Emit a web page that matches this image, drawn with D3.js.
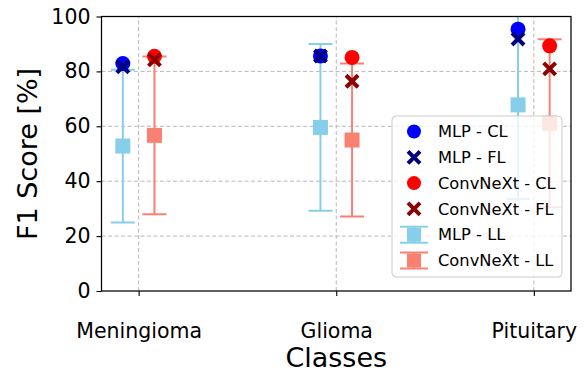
<!DOCTYPE html>
<html>
<head>
<meta charset="utf-8">
<script src="https://cdn.jsdelivr.net/npm/d3@7"></script>
<style>
  body { margin: 0; background: #fff; }
  svg { display: block; font-family: "DejaVu Sans", sans-serif; }
</style>
</head>
<body>
<svg id="chart" width="587" height="373"></svg>
<script>
var classes = ["Meningioma", "Glioma", "Pituitary"];
var mlpCL = [82.9, 85.6, 95.4];
var mlpFL = [81.7, 85.6, 91.8];
var cnxCL = [85.5, 85.1, 89.3];
var cnxFL = [84.2, 76.4, 80.9];
var mlpLL = [52.8, 59.6, 67.8];
var mlpLLerr = [27.8, 30.4, 34.3];
var cnxLL = [56.7, 55.0, 61.1];
var cnxLLerr = [28.7, 27.9, 30.6];
var yTicks = [0, 20, 40, 60, 80, 100];

var svg = d3.select("#chart"),
    margin = {left: 101.5, right: 16, top: 16.5, bottom: 82},
    width = +svg.attr("width"),
    height = +svg.attr("height");

var x = d3.scaleLinear().domain([-0.188, 2.188]).range([margin.left, width - margin.right]);
var y = d3.scaleLinear().domain([0, 100]).range([height - margin.bottom, margin.top]);
var off = 0.08;

var skyblue = "#87ceeb", salmon = "#fa8072";

svg.append("clipPath").attr("id", "clip")
  .append("rect")
    .attr("x", x.range()[0]).attr("y", y.range()[1])
    .attr("width", x.range()[1] - x.range()[0])
    .attr("height", y.range()[0] - y.range()[1]);

// grid
var grid = svg.append("g");
grid.selectAll("line.gy")
  .data(yTicks.slice(1, 5))
  .enter().append("line")
    .attr("x1", x.range()[0]).attr("x2", x.range()[1])
    .attr("y1", function(d) { return y(d); })
    .attr("y2", function(d) { return y(d); })
    .attr("stroke", "#b0b0b0").attr("stroke-width", 0.9)
    .attr("stroke-dasharray", "4,2.5");
grid.selectAll("line.gx")
  .data(classes)
  .enter().append("line")
    .attr("x1", function(d, i) { return x(i); })
    .attr("x2", function(d, i) { return x(i); })
    .attr("y1", y.range()[0]).attr("y2", y.range()[1])
    .attr("stroke", "#b0b0b0").attr("stroke-width", 0.9)
    .attr("stroke-dasharray", "4,2.5");

var plot = svg.append("g").attr("clip-path", "url(#clip)");

function errorbars(vals, errs, dx, color) {
  var g = plot.append("g");
  vals.forEach(function(v, i) {
    var cx = x(i + dx);
    g.append("line")
      .attr("x1", cx).attr("x2", cx)
      .attr("y1", y(v - errs[i])).attr("y2", y(v + errs[i]))
      .attr("stroke", color).attr("stroke-width", 2);
    [v - errs[i], v + errs[i]].forEach(function(c) {
      g.append("line")
        .attr("x1", cx - 12).attr("x2", cx + 12)
        .attr("y1", y(c)).attr("y2", y(c))
        .attr("stroke", color).attr("stroke-width", 2);
    });
    g.append("rect")
      .attr("x", cx - 7.5).attr("y", y(v) - 7.5)
      .attr("width", 15).attr("height", 15)
      .attr("fill", color);
  });
}
errorbars(mlpLL, mlpLLerr, -off, skyblue);
errorbars(cnxLL, cnxLLerr, off, salmon);

function circles(vals, dx, color) {
  plot.append("g").selectAll("circle")
    .data(vals)
    .enter().append("circle")
      .attr("cx", function(d, i) { return x(i + dx); })
      .attr("cy", function(d) { return y(d); })
      .attr("r", 7.5)
      .attr("fill", color);
}
function crosses(vals, dx, color) {
  plot.append("g").selectAll("path")
    .data(vals)
    .enter().append("path")
      .attr("transform", function(d, i) { return "translate(" + x(i + dx) + "," + y(d) + ")"; })
      .attr("d", "M-6,-6L6,6M-6,6L6,-6")
      .attr("stroke", color).attr("stroke-width", 4)
      .attr("fill", "none");
}
circles(mlpCL, -off, "#0000ff");
crosses(mlpFL, -off, "#000080");
circles(cnxCL, off, "#ff0000");
crosses(cnxFL, off, "#8b0000");

// frame
svg.append("rect")
  .attr("x", x.range()[0]).attr("y", y.range()[1])
  .attr("width", x.range()[1] - x.range()[0])
  .attr("height", y.range()[0] - y.range()[1])
  .attr("fill", "none").attr("stroke", "#000").attr("stroke-width", 1.25);

// y axis
var yAxis = svg.append("g")
  .attr("transform", "translate(" + x.range()[0] + ",0)")
  .call(d3.axisLeft(y).tickValues(yTicks).tickSize(5).tickPadding(6));
yAxis.select(".domain").remove();
yAxis.selectAll("text").attr("font-size", 20.5).attr("font-family", "DejaVu Sans").attr("fill", "#000");
yAxis.selectAll("line").attr("stroke-width", 1.1);

// x axis
var xAxis = svg.append("g")
  .attr("transform", "translate(0," + y.range()[0] + ")")
  .call(d3.axisBottom(x).tickValues([0, 1, 2]).tickSize(5).tickPadding(27)
    .tickFormat(function(d) { return classes[d]; }));
xAxis.select(".domain").remove();
xAxis.selectAll("text").attr("font-size", 20.5).attr("font-family", "DejaVu Sans").attr("fill", "#000");
xAxis.selectAll("line").attr("stroke-width", 1.1);

svg.append("text")
  .attr("x", (x.range()[0] + x.range()[1]) / 2).attr("y", 367)
  .attr("text-anchor", "middle").attr("font-size", 27)
  .text("Classes");

svg.append("text")
  .attr("transform", "translate(37,154) rotate(-90)")
  .attr("text-anchor", "middle").attr("font-size", 27)
  .text("F1 Score [%]");

// legend
var legend = svg.append("g").attr("transform", "translate(392,116)");
legend.append("rect")
  .attr("width", 170).attr("height", 161).attr("rx", 4)
  .attr("fill", "#fff").attr("fill-opacity", 0.8)
  .attr("stroke", "#cccccc").attr("stroke-width", 1);

var items = [
  {label: "MLP - CL", type: "circle", color: "#0000ff"},
  {label: "MLP - FL", type: "cross", color: "#000080"},
  {label: "ConvNeXt - CL", type: "circle", color: "#ff0000"},
  {label: "ConvNeXt - FL", type: "cross", color: "#8b0000"},
  {label: "MLP - LL", type: "err", color: skyblue},
  {label: "ConvNeXt - LL", type: "err", color: salmon}
];
var row = legend.selectAll("g.item")
  .data(items)
  .enter().append("g")
    .attr("transform", function(d, i) { return "translate(0," + (15.5 + i * 25.8) + ")"; });
row.each(function(d) {
  var g = d3.select(this), mx = 22;
  if (d.type === "circle") {
    g.append("circle").attr("cx", mx).attr("r", 7).attr("fill", d.color);
  } else if (d.type === "cross") {
    g.append("path").attr("transform", "translate(" + mx + ",0)")
      .attr("d", "M-6,-6L6,6M-6,6L6,-6")
      .attr("stroke", d.color).attr("stroke-width", 4).attr("fill", "none");
  } else {
    g.append("line").attr("x1", mx).attr("x2", mx).attr("y1", -8).attr("y2", 8)
      .attr("stroke", d.color).attr("stroke-width", 2);
    [-8, 8].forEach(function(c) {
      g.append("line").attr("x1", mx - 14).attr("x2", mx + 14).attr("y1", c).attr("y2", c)
        .attr("stroke", d.color).attr("stroke-width", 2);
    });
    g.append("rect").attr("x", mx - 7).attr("y", -7).attr("width", 14).attr("height", 14)
      .attr("fill", d.color);
  }
  g.append("text").attr("x", 46).attr("dy", "0.35em")
    .attr("font-size", 16.3).attr("fill", "#000")
    .text(d.label);
});
</script>
</body>
</html>
